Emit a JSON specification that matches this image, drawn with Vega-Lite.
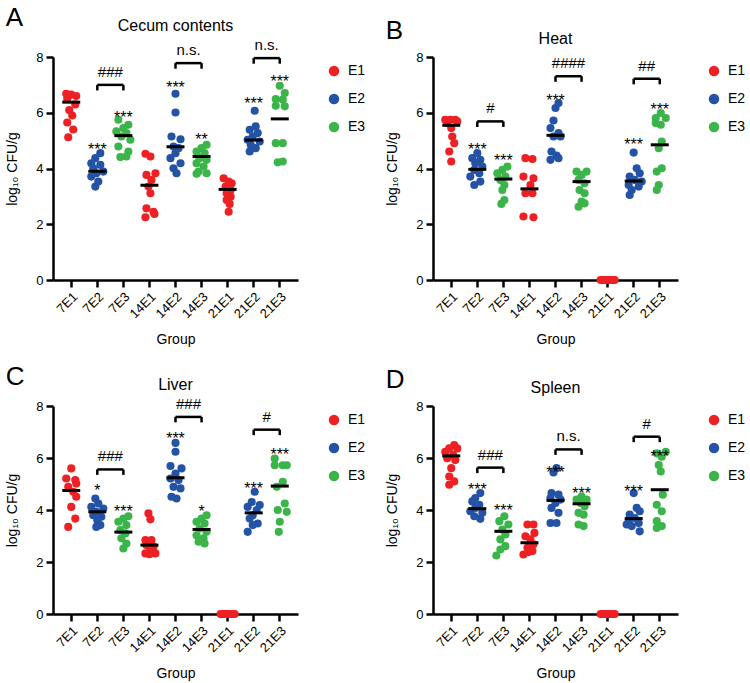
{
"$schema":"https://vega.github.io/schema/vega-lite/v6.json",
"padding":{"left":5,"top":5,"right":0,"bottom":0},
"datasets":{
"pts":[
{"p":"A","g":"7E1","e":"E1","v":6.68,"j":-5},{"p":"A","g":"7E1","e":"E1","v":6.65,"j":0},{"p":"A","g":"7E1","e":"E1","v":6.6,"j":5},{"p":"A","g":"7E1","e":"E1","v":6.5,"j":-4},{"p":"A","g":"7E1","e":"E1","v":6.3,"j":4},{"p":"A","g":"7E1","e":"E1","v":6.1,"j":-2},{"p":"A","g":"7E1","e":"E1","v":5.9,"j":1},{"p":"A","g":"7E1","e":"E1","v":5.65,"j":-4},{"p":"A","g":"7E1","e":"E1","v":5.4,"j":2},{"p":"A","g":"7E1","e":"E1","v":5.12,"j":-3},
{"p":"A","g":"7E2","e":"E2","v":4.55,"j":3},{"p":"A","g":"7E2","e":"E2","v":4.37,"j":-2},{"p":"A","g":"7E2","e":"E2","v":4.19,"j":-6},{"p":"A","g":"7E2","e":"E2","v":4.13,"j":3},{"p":"A","g":"7E2","e":"E2","v":4.01,"j":-4},{"p":"A","g":"7E2","e":"E2","v":3.89,"j":6},{"p":"A","g":"7E2","e":"E2","v":3.83,"j":-1},{"p":"A","g":"7E2","e":"E2","v":3.71,"j":-6},{"p":"A","g":"7E2","e":"E2","v":3.53,"j":1},{"p":"A","g":"7E2","e":"E2","v":3.35,"j":-2},
{"p":"A","g":"7E3","e":"E3","v":5.75,"j":-5},{"p":"A","g":"7E3","e":"E3","v":5.57,"j":5},{"p":"A","g":"7E3","e":"E3","v":5.45,"j":0},{"p":"A","g":"7E3","e":"E3","v":5.33,"j":-7},{"p":"A","g":"7E3","e":"E3","v":5.27,"j":3},{"p":"A","g":"7E3","e":"E3","v":5.15,"j":-2},{"p":"A","g":"7E3","e":"E3","v":5.03,"j":7},{"p":"A","g":"7E3","e":"E3","v":4.79,"j":-5},{"p":"A","g":"7E3","e":"E3","v":4.61,"j":5},{"p":"A","g":"7E3","e":"E3","v":4.41,"j":-3},{"p":"A","g":"7E3","e":"E3","v":4.43,"j":3},
{"p":"A","g":"14E1","e":"E1","v":4.53,"j":-4},{"p":"A","g":"14E1","e":"E1","v":4.43,"j":1},{"p":"A","g":"14E1","e":"E1","v":3.83,"j":6},{"p":"A","g":"14E1","e":"E1","v":3.77,"j":-3},{"p":"A","g":"14E1","e":"E1","v":3.59,"j":2},{"p":"A","g":"14E1","e":"E1","v":3.35,"j":-1},{"p":"A","g":"14E1","e":"E1","v":3.11,"j":1},{"p":"A","g":"14E1","e":"E1","v":2.57,"j":-3},{"p":"A","g":"14E1","e":"E1","v":2.45,"j":4},{"p":"A","g":"14E1","e":"E1","v":2.25,"j":-4},{"p":"A","g":"14E1","e":"E1","v":2.37,"j":5},
{"p":"A","g":"14E2","e":"E2","v":6.68,"j":0},{"p":"A","g":"14E2","e":"E2","v":6.01,"j":0},{"p":"A","g":"14E2","e":"E2","v":5.15,"j":-4},{"p":"A","g":"14E2","e":"E2","v":5.05,"j":5},{"p":"A","g":"14E2","e":"E2","v":4.79,"j":-2},{"p":"A","g":"14E2","e":"E2","v":4.73,"j":3},{"p":"A","g":"14E2","e":"E2","v":4.55,"j":0},{"p":"A","g":"14E2","e":"E2","v":4.37,"j":-5},{"p":"A","g":"14E2","e":"E2","v":4.19,"j":5},{"p":"A","g":"14E2","e":"E2","v":4.01,"j":-2},{"p":"A","g":"14E2","e":"E2","v":3.83,"j":1},
{"p":"A","g":"14E3","e":"E3","v":4.85,"j":5},{"p":"A","g":"14E3","e":"E3","v":4.73,"j":0},{"p":"A","g":"14E3","e":"E3","v":4.61,"j":-5},{"p":"A","g":"14E3","e":"E3","v":4.55,"j":3},{"p":"A","g":"14E3","e":"E3","v":4.37,"j":-2},{"p":"A","g":"14E3","e":"E3","v":4.31,"j":5},{"p":"A","g":"14E3","e":"E3","v":4.19,"j":-5},{"p":"A","g":"14E3","e":"E3","v":4.07,"j":2},{"p":"A","g":"14E3","e":"E3","v":3.89,"j":-3},{"p":"A","g":"14E3","e":"E3","v":3.83,"j":5},{"p":"A","g":"14E3","e":"E3","v":3.81,"j":-5},
{"p":"A","g":"21E1","e":"E1","v":3.65,"j":-4},{"p":"A","g":"21E1","e":"E1","v":3.53,"j":1},{"p":"A","g":"21E1","e":"E1","v":3.47,"j":4},{"p":"A","g":"21E1","e":"E1","v":3.35,"j":-2},{"p":"A","g":"21E1","e":"E1","v":3.23,"j":3},{"p":"A","g":"21E1","e":"E1","v":3.11,"j":-1},{"p":"A","g":"21E1","e":"E1","v":2.99,"j":3},{"p":"A","g":"21E1","e":"E1","v":2.87,"j":-1},{"p":"A","g":"21E1","e":"E1","v":2.73,"j":2},{"p":"A","g":"21E1","e":"E1","v":2.45,"j":1},
{"p":"A","g":"21E2","e":"E2","v":6.07,"j":1},{"p":"A","g":"21E2","e":"E2","v":5.51,"j":2},{"p":"A","g":"21E2","e":"E2","v":5.39,"j":-4},{"p":"A","g":"21E2","e":"E2","v":5.27,"j":4},{"p":"A","g":"21E2","e":"E2","v":5.15,"j":-1},{"p":"A","g":"21E2","e":"E2","v":5.03,"j":-6},{"p":"A","g":"21E2","e":"E2","v":4.97,"j":6},{"p":"A","g":"21E2","e":"E2","v":4.85,"j":-3},{"p":"A","g":"21E2","e":"E2","v":4.73,"j":2},{"p":"A","g":"21E2","e":"E2","v":4.61,"j":-4},
{"p":"A","g":"21E3","e":"E3","v":6.97,"j":0},{"p":"A","g":"21E3","e":"E3","v":6.71,"j":5},{"p":"A","g":"21E3","e":"E3","v":6.49,"j":-4},{"p":"A","g":"21E3","e":"E3","v":6.47,"j":3},{"p":"A","g":"21E3","e":"E3","v":6.25,"j":-4},{"p":"A","g":"21E3","e":"E3","v":6.23,"j":5},{"p":"A","g":"21E3","e":"E3","v":4.91,"j":-4},{"p":"A","g":"21E3","e":"E3","v":4.91,"j":3},{"p":"A","g":"21E3","e":"E3","v":4.22,"j":-2},{"p":"A","g":"21E3","e":"E3","v":4.25,"j":3},

{"p":"B","g":"7E1","e":"E1","v":5.75,"j":-6},{"p":"B","g":"7E1","e":"E1","v":5.75,"j":-1},{"p":"B","g":"7E1","e":"E1","v":5.75,"j":4},{"p":"B","g":"7E1","e":"E1","v":5.69,"j":6},{"p":"B","g":"7E1","e":"E1","v":5.63,"j":-4},{"p":"B","g":"7E1","e":"E1","v":5.45,"j":0},{"p":"B","g":"7E1","e":"E1","v":5.15,"j":1},{"p":"B","g":"7E1","e":"E1","v":4.91,"j":3},{"p":"B","g":"7E1","e":"E1","v":4.61,"j":-2},{"p":"B","g":"7E1","e":"E1","v":4.25,"j":0},
{"p":"B","g":"7E2","e":"E2","v":4.55,"j":0},{"p":"B","g":"7E2","e":"E2","v":4.37,"j":-5},{"p":"B","g":"7E2","e":"E2","v":4.31,"j":3},{"p":"B","g":"7E2","e":"E2","v":4.19,"j":-2},{"p":"B","g":"7E2","e":"E2","v":4.07,"j":5},{"p":"B","g":"7E2","e":"E2","v":3.95,"j":-3},{"p":"B","g":"7E2","e":"E2","v":3.83,"j":2},{"p":"B","g":"7E2","e":"E2","v":3.71,"j":-7},{"p":"B","g":"7E2","e":"E2","v":3.53,"j":3},{"p":"B","g":"7E2","e":"E2","v":3.41,"j":-3},
{"p":"B","g":"7E3","e":"E3","v":4.07,"j":4},{"p":"B","g":"7E3","e":"E3","v":3.95,"j":-1},{"p":"B","g":"7E3","e":"E3","v":3.83,"j":-6},{"p":"B","g":"7E3","e":"E3","v":3.71,"j":2},{"p":"B","g":"7E3","e":"E3","v":3.59,"j":-3},{"p":"B","g":"7E3","e":"E3","v":3.41,"j":1},{"p":"B","g":"7E3","e":"E3","v":3.23,"j":-1},{"p":"B","g":"7E3","e":"E3","v":2.87,"j":1},{"p":"B","g":"7E3","e":"E3","v":2.73,"j":-2},
{"p":"B","g":"14E1","e":"E1","v":4.37,"j":-4},{"p":"B","g":"14E1","e":"E1","v":4.34,"j":3},{"p":"B","g":"14E1","e":"E1","v":3.71,"j":-6},{"p":"B","g":"14E1","e":"E1","v":3.65,"j":4},{"p":"B","g":"14E1","e":"E1","v":3.41,"j":1},{"p":"B","g":"14E1","e":"E1","v":3.11,"j":-4},{"p":"B","g":"14E1","e":"E1","v":3.11,"j":3},{"p":"B","g":"14E1","e":"E1","v":2.28,"j":-6},{"p":"B","g":"14E1","e":"E1","v":2.25,"j":4},
{"p":"B","g":"14E2","e":"E2","v":6.35,"j":3},{"p":"B","g":"14E2","e":"E2","v":6.17,"j":0},{"p":"B","g":"14E2","e":"E2","v":5.72,"j":-2},{"p":"B","g":"14E2","e":"E2","v":5.45,"j":-5},{"p":"B","g":"14E2","e":"E2","v":5.27,"j":3},{"p":"B","g":"14E2","e":"E2","v":5.15,"j":-2},{"p":"B","g":"14E2","e":"E2","v":5.15,"j":5},{"p":"B","g":"14E2","e":"E2","v":4.61,"j":-4},{"p":"B","g":"14E2","e":"E2","v":4.46,"j":1},{"p":"B","g":"14E2","e":"E2","v":4.31,"j":-5},{"p":"B","g":"14E2","e":"E2","v":4.37,"j":3},
{"p":"B","g":"14E3","e":"E3","v":3.89,"j":-5},{"p":"B","g":"14E3","e":"E3","v":3.89,"j":5},{"p":"B","g":"14E3","e":"E3","v":3.77,"j":0},{"p":"B","g":"14E3","e":"E3","v":3.59,"j":-3},{"p":"B","g":"14E3","e":"E3","v":3.47,"j":3},{"p":"B","g":"14E3","e":"E3","v":3.23,"j":-2},{"p":"B","g":"14E3","e":"E3","v":3.11,"j":3},{"p":"B","g":"14E3","e":"E3","v":2.81,"j":0},{"p":"B","g":"14E3","e":"E3","v":2.63,"j":-3},{"p":"B","g":"14E3","e":"E3","v":2.75,"j":3},
{"p":"B","g":"21E1","e":"E1","v":0,"j":-7},{"p":"B","g":"21E1","e":"E1","v":0,"j":-5},{"p":"B","g":"21E1","e":"E1","v":0,"j":-3},{"p":"B","g":"21E1","e":"E1","v":0,"j":-1},{"p":"B","g":"21E1","e":"E1","v":0,"j":1},{"p":"B","g":"21E1","e":"E1","v":0,"j":3},{"p":"B","g":"21E1","e":"E1","v":0,"j":5},{"p":"B","g":"21E1","e":"E1","v":0,"j":7},{"p":"B","g":"21E1","e":"E1","v":0,"j":-4},{"p":"B","g":"21E1","e":"E1","v":0,"j":4},
{"p":"B","g":"21E2","e":"E2","v":4.57,"j":0},{"p":"B","g":"21E2","e":"E2","v":4.01,"j":3},{"p":"B","g":"21E2","e":"E2","v":3.83,"j":6},{"p":"B","g":"21E2","e":"E2","v":3.71,"j":-4},{"p":"B","g":"21E2","e":"E2","v":3.59,"j":1},{"p":"B","g":"21E2","e":"E2","v":3.53,"j":8},{"p":"B","g":"21E2","e":"E2","v":3.41,"j":-5},{"p":"B","g":"21E2","e":"E2","v":3.35,"j":5},{"p":"B","g":"21E2","e":"E2","v":3.23,"j":-2},{"p":"B","g":"21E2","e":"E2","v":3.05,"j":-4},
{"p":"B","g":"21E3","e":"E3","v":5.99,"j":1},{"p":"B","g":"21E3","e":"E3","v":5.81,"j":-4},{"p":"B","g":"21E3","e":"E3","v":5.81,"j":6},{"p":"B","g":"21E3","e":"E3","v":5.63,"j":-4},{"p":"B","g":"21E3","e":"E3","v":5.57,"j":1},{"p":"B","g":"21E3","e":"E3","v":4.97,"j":2},{"p":"B","g":"21E3","e":"E3","v":4.73,"j":-1},{"p":"B","g":"21E3","e":"E3","v":4.01,"j":2},{"p":"B","g":"21E3","e":"E3","v":3.89,"j":-3},{"p":"B","g":"21E3","e":"E3","v":3.41,"j":-1},{"p":"B","g":"21E3","e":"E3","v":3.23,"j":-3},

{"p":"C","g":"7E1","e":"E1","v":5.6,"j":0},{"p":"C","g":"7E1","e":"E1","v":5.21,"j":-5},{"p":"C","g":"7E1","e":"E1","v":5.15,"j":4},{"p":"C","g":"7E1","e":"E1","v":5.02,"j":5},{"p":"C","g":"7E1","e":"E1","v":4.89,"j":-3},{"p":"C","g":"7E1","e":"E1","v":4.7,"j":2},{"p":"C","g":"7E1","e":"E1","v":4.51,"j":5},{"p":"C","g":"7E1","e":"E1","v":4.12,"j":0},{"p":"C","g":"7E1","e":"E1","v":3.67,"j":4},{"p":"C","g":"7E1","e":"E1","v":3.35,"j":-3},
{"p":"C","g":"7E2","e":"E2","v":4.44,"j":-2},{"p":"C","g":"7E2","e":"E2","v":4.25,"j":1},{"p":"C","g":"7E2","e":"E2","v":4.12,"j":-6},{"p":"C","g":"7E2","e":"E2","v":4.06,"j":6},{"p":"C","g":"7E2","e":"E2","v":3.93,"j":-1},{"p":"C","g":"7E2","e":"E2","v":3.8,"j":-4},{"p":"C","g":"7E2","e":"E2","v":3.74,"j":4},{"p":"C","g":"7E2","e":"E2","v":3.61,"j":0},{"p":"C","g":"7E2","e":"E2","v":3.35,"j":-1},{"p":"C","g":"7E2","e":"E2","v":3.42,"j":3},
{"p":"C","g":"7E3","e":"E3","v":3.76,"j":5},{"p":"C","g":"7E3","e":"E3","v":3.67,"j":0},{"p":"C","g":"7E3","e":"E3","v":3.55,"j":-5},{"p":"C","g":"7E3","e":"E3","v":3.42,"j":3},{"p":"C","g":"7E3","e":"E3","v":3.23,"j":-3},{"p":"C","g":"7E3","e":"E3","v":3.1,"j":2},{"p":"C","g":"7E3","e":"E3","v":2.91,"j":-2},{"p":"C","g":"7E3","e":"E3","v":2.71,"j":3},{"p":"C","g":"7E3","e":"E3","v":2.52,"j":0},
{"p":"C","g":"14E1","e":"E1","v":3.87,"j":-1},{"p":"C","g":"14E1","e":"E1","v":3.64,"j":1},{"p":"C","g":"14E1","e":"E1","v":2.84,"j":-4},{"p":"C","g":"14E1","e":"E1","v":2.84,"j":2},{"p":"C","g":"14E1","e":"E1","v":2.65,"j":-3},{"p":"C","g":"14E1","e":"E1","v":2.59,"j":4},{"p":"C","g":"14E1","e":"E1","v":2.46,"j":1},{"p":"C","g":"14E1","e":"E1","v":2.33,"j":-4},{"p":"C","g":"14E1","e":"E1","v":2.33,"j":6},{"p":"C","g":"14E1","e":"E1","v":2.3,"j":0},
{"p":"C","g":"14E2","e":"E2","v":6.58,"j":0},{"p":"C","g":"14E2","e":"E2","v":6.24,"j":0},{"p":"C","g":"14E2","e":"E2","v":5.69,"j":-5},{"p":"C","g":"14E2","e":"E2","v":5.6,"j":6},{"p":"C","g":"14E2","e":"E2","v":5.4,"j":0},{"p":"C","g":"14E2","e":"E2","v":5.21,"j":-5},{"p":"C","g":"14E2","e":"E2","v":5.15,"j":3},{"p":"C","g":"14E2","e":"E2","v":4.89,"j":-2},{"p":"C","g":"14E2","e":"E2","v":4.83,"j":5},{"p":"C","g":"14E2","e":"E2","v":4.51,"j":-4},{"p":"C","g":"14E2","e":"E2","v":4.44,"j":1},
{"p":"C","g":"14E3","e":"E3","v":3.8,"j":5},{"p":"C","g":"14E3","e":"E3","v":3.67,"j":0},{"p":"C","g":"14E3","e":"E3","v":3.55,"j":-5},{"p":"C","g":"14E3","e":"E3","v":3.48,"j":3},{"p":"C","g":"14E3","e":"E3","v":3.29,"j":-2},{"p":"C","g":"14E3","e":"E3","v":3.16,"j":5},{"p":"C","g":"14E3","e":"E3","v":3.03,"j":-5},{"p":"C","g":"14E3","e":"E3","v":2.91,"j":2},{"p":"C","g":"14E3","e":"E3","v":2.78,"j":-3},{"p":"C","g":"14E3","e":"E3","v":2.71,"j":3},
{"p":"C","g":"21E1","e":"E1","v":0,"j":-7},{"p":"C","g":"21E1","e":"E1","v":0,"j":-5},{"p":"C","g":"21E1","e":"E1","v":0,"j":-3},{"p":"C","g":"21E1","e":"E1","v":0,"j":-1},{"p":"C","g":"21E1","e":"E1","v":0,"j":1},{"p":"C","g":"21E1","e":"E1","v":0,"j":3},{"p":"C","g":"21E1","e":"E1","v":0,"j":5},{"p":"C","g":"21E1","e":"E1","v":0,"j":7},{"p":"C","g":"21E1","e":"E1","v":0,"j":-4},{"p":"C","g":"21E1","e":"E1","v":0,"j":4},
{"p":"C","g":"21E2","e":"E2","v":4.7,"j":1},{"p":"C","g":"21E2","e":"E2","v":4.31,"j":-2},{"p":"C","g":"21E2","e":"E2","v":4.19,"j":6},{"p":"C","g":"21E2","e":"E2","v":4.12,"j":-6},{"p":"C","g":"21E2","e":"E2","v":4.0,"j":3},{"p":"C","g":"21E2","e":"E2","v":3.8,"j":-1},{"p":"C","g":"21E2","e":"E2","v":3.67,"j":-4},{"p":"C","g":"21E2","e":"E2","v":3.48,"j":4},{"p":"C","g":"21E2","e":"E2","v":3.42,"j":-1},{"p":"C","g":"21E2","e":"E2","v":3.16,"j":-6},
{"p":"C","g":"21E3","e":"E3","v":5.98,"j":-5},{"p":"C","g":"21E3","e":"E3","v":5.72,"j":3},{"p":"C","g":"21E3","e":"E3","v":5.72,"j":-5},{"p":"C","g":"21E3","e":"E3","v":5.72,"j":7},{"p":"C","g":"21E3","e":"E3","v":5.08,"j":3},{"p":"C","g":"21E3","e":"E3","v":4.89,"j":-3},{"p":"C","g":"21E3","e":"E3","v":4.25,"j":5},{"p":"C","g":"21E3","e":"E3","v":4.0,"j":-2},{"p":"C","g":"21E3","e":"E3","v":3.93,"j":7},{"p":"C","g":"21E3","e":"E3","v":3.55,"j":0},{"p":"C","g":"21E3","e":"E3","v":3.16,"j":-1},

{"p":"D","g":"7E1","e":"E1","v":6.5,"j":3},{"p":"D","g":"7E1","e":"E1","v":6.37,"j":-2},{"p":"D","g":"7E1","e":"E1","v":6.37,"j":6},{"p":"D","g":"7E1","e":"E1","v":6.24,"j":-6},{"p":"D","g":"7E1","e":"E1","v":6.11,"j":2},{"p":"D","g":"7E1","e":"E1","v":5.99,"j":-4},{"p":"D","g":"7E1","e":"E1","v":5.92,"j":4},{"p":"D","g":"7E1","e":"E1","v":5.61,"j":0},{"p":"D","g":"7E1","e":"E1","v":5.29,"j":-2},{"p":"D","g":"7E1","e":"E1","v":5.1,"j":3},{"p":"D","g":"7E1","e":"E1","v":4.97,"j":-2},
{"p":"D","g":"7E2","e":"E2","v":4.65,"j":3},{"p":"D","g":"7E2","e":"E2","v":4.46,"j":-2},{"p":"D","g":"7E2","e":"E2","v":4.33,"j":-5},{"p":"D","g":"7E2","e":"E2","v":4.2,"j":2},{"p":"D","g":"7E2","e":"E2","v":4.08,"j":-2},{"p":"D","g":"7E2","e":"E2","v":3.95,"j":-7},{"p":"D","g":"7E2","e":"E2","v":3.89,"j":5},{"p":"D","g":"7E2","e":"E2","v":3.76,"j":-3},{"p":"D","g":"7E2","e":"E2","v":3.66,"j":3},
{"p":"D","g":"7E3","e":"E3","v":3.76,"j":1},{"p":"D","g":"7E3","e":"E3","v":3.57,"j":-4},{"p":"D","g":"7E3","e":"E3","v":3.44,"j":5},{"p":"D","g":"7E3","e":"E3","v":3.25,"j":-1},{"p":"D","g":"7E3","e":"E3","v":3.06,"j":2},{"p":"D","g":"7E3","e":"E3","v":2.87,"j":-3},{"p":"D","g":"7E3","e":"E3","v":2.61,"j":2},{"p":"D","g":"7E3","e":"E3","v":2.48,"j":-3},{"p":"D","g":"7E3","e":"E3","v":2.25,"j":-7},
{"p":"D","g":"14E1","e":"E1","v":3.44,"j":-2},{"p":"D","g":"14E1","e":"E1","v":3.44,"j":4},{"p":"D","g":"14E1","e":"E1","v":3.12,"j":5},{"p":"D","g":"14E1","e":"E1","v":2.99,"j":-4},{"p":"D","g":"14E1","e":"E1","v":2.87,"j":1},{"p":"D","g":"14E1","e":"E1","v":2.68,"j":4},{"p":"D","g":"14E1","e":"E1","v":2.55,"j":-2},{"p":"D","g":"14E1","e":"E1","v":2.42,"j":3},{"p":"D","g":"14E1","e":"E1","v":2.29,"j":-6},{"p":"D","g":"14E1","e":"E1","v":2.38,"j":-1},
{"p":"D","g":"14E2","e":"E2","v":5.61,"j":1},{"p":"D","g":"14E2","e":"E2","v":5.44,"j":-2},{"p":"D","g":"14E2","e":"E2","v":4.65,"j":-4},{"p":"D","g":"14E2","e":"E2","v":4.59,"j":3},{"p":"D","g":"14E2","e":"E2","v":4.46,"j":-5},{"p":"D","g":"14E2","e":"E2","v":4.4,"j":5},{"p":"D","g":"14E2","e":"E2","v":4.27,"j":0},{"p":"D","g":"14E2","e":"E2","v":4.08,"j":-4},{"p":"D","g":"14E2","e":"E2","v":3.89,"j":3},{"p":"D","g":"14E2","e":"E2","v":3.5,"j":-5},{"p":"D","g":"14E2","e":"E2","v":3.5,"j":1},
{"p":"D","g":"14E3","e":"E3","v":4.52,"j":0},{"p":"D","g":"14E3","e":"E3","v":4.4,"j":-5},{"p":"D","g":"14E3","e":"E3","v":4.4,"j":5},{"p":"D","g":"14E3","e":"E3","v":4.27,"j":-1},{"p":"D","g":"14E3","e":"E3","v":4.14,"j":3},{"p":"D","g":"14E3","e":"E3","v":3.89,"j":-3},{"p":"D","g":"14E3","e":"E3","v":3.82,"j":2},{"p":"D","g":"14E3","e":"E3","v":3.44,"j":-3},{"p":"D","g":"14E3","e":"E3","v":3.38,"j":2},
{"p":"D","g":"21E1","e":"E1","v":0,"j":-7},{"p":"D","g":"21E1","e":"E1","v":0,"j":-5},{"p":"D","g":"21E1","e":"E1","v":0,"j":-3},{"p":"D","g":"21E1","e":"E1","v":0,"j":-1},{"p":"D","g":"21E1","e":"E1","v":0,"j":1},{"p":"D","g":"21E1","e":"E1","v":0,"j":3},{"p":"D","g":"21E1","e":"E1","v":0,"j":5},{"p":"D","g":"21E1","e":"E1","v":0,"j":7},{"p":"D","g":"21E1","e":"E1","v":0,"j":-4},{"p":"D","g":"21E1","e":"E1","v":0,"j":4},
{"p":"D","g":"21E2","e":"E2","v":4.65,"j":0},{"p":"D","g":"21E2","e":"E2","v":4.08,"j":3},{"p":"D","g":"21E2","e":"E2","v":3.95,"j":6},{"p":"D","g":"21E2","e":"E2","v":3.82,"j":-4},{"p":"D","g":"21E2","e":"E2","v":3.69,"j":1},{"p":"D","g":"21E2","e":"E2","v":3.57,"j":-5},{"p":"D","g":"21E2","e":"E2","v":3.5,"j":5},{"p":"D","g":"21E2","e":"E2","v":3.38,"j":-2},{"p":"D","g":"21E2","e":"E2","v":3.44,"j":-7},{"p":"D","g":"21E2","e":"E2","v":3.18,"j":6},
{"p":"D","g":"21E3","e":"E3","v":6.24,"j":6},{"p":"D","g":"21E3","e":"E3","v":6.18,"j":-3},{"p":"D","g":"21E3","e":"E3","v":6.05,"j":2},{"p":"D","g":"21E3","e":"E3","v":5.73,"j":-1},{"p":"D","g":"21E3","e":"E3","v":5.48,"j":1},{"p":"D","g":"21E3","e":"E3","v":4.59,"j":3},{"p":"D","g":"21E3","e":"E3","v":4.2,"j":-3},{"p":"D","g":"21E3","e":"E3","v":3.95,"j":2},{"p":"D","g":"21E3","e":"E3","v":3.57,"j":-3},{"p":"D","g":"21E3","e":"E3","v":3.38,"j":2},{"p":"D","g":"21E3","e":"E3","v":3.31,"j":-3}
],
"med":[
{"p":"A","g":"7E1","v":6.38},{"p":"A","g":"7E2","v":3.9},{"p":"A","g":"7E3","v":5.18},{"p":"A","g":"14E1","v":3.4},{"p":"A","g":"14E2","v":4.78},{"p":"A","g":"14E3","v":4.43},{"p":"A","g":"21E1","v":3.25},{"p":"A","g":"21E2","v":5.02},{"p":"A","g":"21E3","v":5.78},
{"p":"B","g":"7E1","v":5.55},{"p":"B","g":"7E2","v":3.97},{"p":"B","g":"7E3","v":3.62},{"p":"B","g":"14E1","v":3.27},{"p":"B","g":"14E2","v":5.19},{"p":"B","g":"14E3","v":3.53},{"p":"B","g":"21E2","v":3.55},{"p":"B","g":"21E3","v":4.85},
{"p":"C","g":"7E1","v":4.75},{"p":"C","g":"7E2","v":3.93},{"p":"C","g":"7E3","v":3.15},{"p":"C","g":"14E1","v":2.65},{"p":"C","g":"14E2","v":5.24},{"p":"C","g":"14E3","v":3.25},{"p":"C","g":"21E2","v":3.89},{"p":"C","g":"21E3","v":4.92},
{"p":"D","g":"7E1","v":6.08},{"p":"D","g":"7E2","v":4.05},{"p":"D","g":"7E3","v":3.18},{"p":"D","g":"14E1","v":2.74},{"p":"D","g":"14E2","v":4.37},{"p":"D","g":"14E3","v":4.24},{"p":"D","g":"21E2","v":3.67},{"p":"D","g":"21E3","v":4.78}
],
"stars":[
{"p":"A","g":"7E2","v":4.85,"t":"***"},{"p":"A","g":"7E3","v":5.99,"t":"***"},{"p":"A","g":"14E2","v":7.07,"t":"***"},{"p":"A","g":"14E3","v":5.21,"t":"**"},{"p":"A","g":"21E2","v":6.49,"t":"***"},{"p":"A","g":"21E3","v":7.27,"t":"***"},
{"p":"B","g":"7E2","v":4.85,"t":"***"},{"p":"B","g":"7E3","v":4.45,"t":"***"},{"p":"B","g":"14E2","v":6.59,"t":"***"},{"p":"B","g":"21E2","v":5.03,"t":"***"},{"p":"B","g":"21E3","v":6.29,"t":"***"},
{"p":"C","g":"7E2","v":4.93,"t":"*"},{"p":"C","g":"7E3","v":4.12,"t":"***"},{"p":"C","g":"14E2","v":6.94,"t":"***"},{"p":"C","g":"14E3","v":4.12,"t":"*"},{"p":"C","g":"21E2","v":4.99,"t":"***"},{"p":"C","g":"21E3","v":6.3,"t":"***"},
{"p":"D","g":"7E2","v":4.97,"t":"***"},{"p":"D","g":"7E3","v":4.17,"t":"***"},{"p":"D","g":"14E2","v":5.63,"t":"***"},{"p":"D","g":"14E3","v":4.8,"t":"***"},{"p":"D","g":"21E2","v":4.9,"t":"***"},{"p":"D","g":"21E3","v":6.24,"t":"***"}
],
"br":[
{"p":"A","g1":"7E2","g2":"7E3","v":7.0,"vb":6.8,"t":"###"},{"p":"A","g1":"14E2","g2":"14E3","v":7.78,"vb":7.58,"t":"n.s."},{"p":"A","g1":"21E2","g2":"21E3","v":7.96,"vb":7.76,"t":"n.s."},
{"p":"B","g1":"7E2","g2":"7E3","v":5.69,"vb":5.49,"t":"#"},{"p":"B","g1":"14E2","g2":"14E3","v":7.31,"vb":7.11,"t":"####"},{"p":"B","g1":"21E2","g2":"21E3","v":7.22,"vb":7.02,"t":"##"},
{"p":"C","g1":"7E2","g2":"7E3","v":5.56,"vb":5.35,"t":"###"},{"p":"C","g1":"14E2","g2":"14E3","v":7.58,"vb":7.37,"t":"###"},{"p":"C","g1":"21E2","g2":"21E3","v":7.09,"vb":6.88,"t":"#"},
{"p":"D","g1":"7E2","g2":"7E3","v":5.63,"vb":5.42,"t":"###"},{"p":"D","g1":"14E2","g2":"14E3","v":6.33,"vb":6.12,"t":"n.s."},{"p":"D","g1":"21E2","g2":"21E3","v":6.82,"vb":6.61,"t":"#"}
]
},
"config":{
"font":"Liberation Sans",
"view":{"stroke":null},
"axis":{"domainColor":"#000","domainWidth":2.5,"tickColor":"#000","tickWidth":2.5,"tickSize":7,"labelColor":"#000","labelFontSize":13,"titleFontSize":14,"titleFontWeight":"normal","titleColor":"#000","grid":false,"labelPadding":3},
"axisX":{"labelAngle":-45,"titlePadding":12},
"axisY":{"titlePadding":16},
"legend":{"labelFontSize":14,"labelColor":"#000","symbolSize":110,"symbolType":"circle","rowPadding":14,"labelOffset":7,"offset":22,"padding":7},
"title":{"fontSize":16,"fontWeight":"normal","color":"#000"},
"text":{"fontSize":14,"color":"#000"}
},
"spacing":16,
"resolve":{"scale":{"color":"independent"},"legend":{"color":"independent"}},
"vconcat":[
{"hconcat":[
{"title":{"text":"A","anchor":"start","fontSize":26,"offset":-13,"frame":"bounds"},"resolve":{"scale":{"color":"independent"},"legend":{"color":"independent"}},"hconcat":[{
"title":{"text":"Cecum contents"},"width":245,"height":223,
"encoding":{"x":{"field":"g","type":"nominal","sort":null,"scale":{"domain":["7E1","7E2","7E3","14E1","14E2","14E3","21E1","21E2","21E3"],"paddingInner":0,"paddingOuter":0.2},"axis":{"title":"Group"}},"y":{"field":"v","type":"quantitative","scale":{"domain":[0,8],"nice":false},"axis":{"values":[0,2,4,6,8],"title":"log₁₀ CFU/g"}}},
"layer":[
{"data":{"name":"pts"},"transform":[{"filter":"datum.p=='A'"}],"mark":{"type":"circle","size":66,"opacity":1},"encoding":{"xOffset":{"field":"j","type":"quantitative","scale":{"domain":[-13,13]}},"color":{"field":"e","type":"nominal","scale":{"domain":["E1","E2","E3"],"range":["#ED2024","#2453A5","#3BB44A"]},"legend":{"title":null}}}},
{"data":{"name":"med"},"transform":[{"filter":"datum.p=='A'"}],"mark":{"type":"tick","color":"#000","thickness":3,"size":18,"opacity":1},"encoding":{}},
{"data":{"name":"stars"},"transform":[{"filter":"datum.p=='A'"}],"mark":{"type":"text","baseline":"middle","dy":5,"fontSize":16},"encoding":{"text":{"field":"t"}}},
{"data":{"name":"br"},"transform":[{"filter":"datum.p=='A'"}],"mark":{"type":"rule","strokeWidth":2.5,"color":"#000"},"encoding":{"x":{"field":"g1","type":"nominal"},"x2":{"field":"g2"}}},
{"data":{"name":"br"},"transform":[{"filter":"datum.p=='A'"},{"fold":["g1","g2"],"as":["k","g"]}],"mark":{"type":"rule","strokeWidth":2.5,"color":"#000"},"encoding":{"y2":{"field":"vb"}}},
{"data":{"name":"br"},"transform":[{"filter":"datum.p=='A'"}],"mark":{"type":"text","baseline":"middle","dx":13,"dy":-13,"fontSize":15},"encoding":{"x":{"field":"g1","type":"nominal"},"text":{"field":"t"}}}
]}]},
{"title":{"text":"B","anchor":"start","fontSize":26,"offset":-13,"frame":"bounds"},"resolve":{"scale":{"color":"independent"},"legend":{"color":"independent"}},"hconcat":[{
"title":{"text":"Heat"},"width":245,"height":223,
"encoding":{"x":{"field":"g","type":"nominal","sort":null,"scale":{"domain":["7E1","7E2","7E3","14E1","14E2","14E3","21E1","21E2","21E3"],"paddingInner":0,"paddingOuter":0.2},"axis":{"title":"Group"}},"y":{"field":"v","type":"quantitative","scale":{"domain":[0,8],"nice":false},"axis":{"values":[0,2,4,6,8],"title":"log₁₀ CFU/g"}}},
"layer":[
{"data":{"name":"pts"},"transform":[{"filter":"datum.p=='B'"}],"mark":{"type":"circle","size":66,"opacity":1},"encoding":{"xOffset":{"field":"j","type":"quantitative","scale":{"domain":[-13,13]}},"color":{"field":"e","type":"nominal","scale":{"domain":["E1","E2","E3"],"range":["#ED2024","#2453A5","#3BB44A"]},"legend":{"title":null}}}},
{"data":{"name":"med"},"transform":[{"filter":"datum.p=='B'"}],"mark":{"type":"tick","color":"#000","thickness":3,"size":18,"opacity":1},"encoding":{}},
{"data":{"name":"stars"},"transform":[{"filter":"datum.p=='B'"}],"mark":{"type":"text","baseline":"middle","dy":5,"fontSize":16},"encoding":{"text":{"field":"t"}}},
{"data":{"name":"br"},"transform":[{"filter":"datum.p=='B'"}],"mark":{"type":"rule","strokeWidth":2.5,"color":"#000"},"encoding":{"x":{"field":"g1","type":"nominal"},"x2":{"field":"g2"}}},
{"data":{"name":"br"},"transform":[{"filter":"datum.p=='B'"},{"fold":["g1","g2"],"as":["k","g"]}],"mark":{"type":"rule","strokeWidth":2.5,"color":"#000"},"encoding":{"y2":{"field":"vb"}}},
{"data":{"name":"br"},"transform":[{"filter":"datum.p=='B'"}],"mark":{"type":"text","baseline":"middle","dx":13,"dy":-13,"fontSize":15},"encoding":{"x":{"field":"g1","type":"nominal"},"text":{"field":"t"}}}
]}]}
],"spacing":12,"resolve":{"scale":{"color":"independent"},"legend":{"color":"independent"}}},
{"hconcat":[
{"title":{"text":"C","anchor":"start","fontSize":26,"offset":-13,"frame":"bounds"},"resolve":{"scale":{"color":"independent"},"legend":{"color":"independent"}},"hconcat":[{
"title":{"text":"Liver"},"width":245,"height":208,
"encoding":{"x":{"field":"g","type":"nominal","sort":null,"scale":{"domain":["7E1","7E2","7E3","14E1","14E2","14E3","21E1","21E2","21E3"],"paddingInner":0,"paddingOuter":0.2},"axis":{"title":"Group"}},"y":{"field":"v","type":"quantitative","scale":{"domain":[0,8],"nice":false},"axis":{"values":[0,2,4,6,8],"title":"log₁₀ CFU/g"}}},
"layer":[
{"data":{"name":"pts"},"transform":[{"filter":"datum.p=='C'"}],"mark":{"type":"circle","size":66,"opacity":1},"encoding":{"xOffset":{"field":"j","type":"quantitative","scale":{"domain":[-13,13]}},"color":{"field":"e","type":"nominal","scale":{"domain":["E1","E2","E3"],"range":["#ED2024","#2453A5","#3BB44A"]},"legend":{"title":null}}}},
{"data":{"name":"med"},"transform":[{"filter":"datum.p=='C'"}],"mark":{"type":"tick","color":"#000","thickness":3,"size":18,"opacity":1},"encoding":{}},
{"data":{"name":"stars"},"transform":[{"filter":"datum.p=='C'"}],"mark":{"type":"text","baseline":"middle","dy":5,"fontSize":16},"encoding":{"text":{"field":"t"}}},
{"data":{"name":"br"},"transform":[{"filter":"datum.p=='C'"}],"mark":{"type":"rule","strokeWidth":2.5,"color":"#000"},"encoding":{"x":{"field":"g1","type":"nominal"},"x2":{"field":"g2"}}},
{"data":{"name":"br"},"transform":[{"filter":"datum.p=='C'"},{"fold":["g1","g2"],"as":["k","g"]}],"mark":{"type":"rule","strokeWidth":2.5,"color":"#000"},"encoding":{"y2":{"field":"vb"}}},
{"data":{"name":"br"},"transform":[{"filter":"datum.p=='C'"}],"mark":{"type":"text","baseline":"middle","dx":13,"dy":-13,"fontSize":15},"encoding":{"x":{"field":"g1","type":"nominal"},"text":{"field":"t"}}}
]}]},
{"title":{"text":"D","anchor":"start","fontSize":26,"offset":-13,"frame":"bounds"},"resolve":{"scale":{"color":"independent"},"legend":{"color":"independent"}},"hconcat":[{
"title":{"text":"Spleen"},"width":245,"height":208,
"encoding":{"x":{"field":"g","type":"nominal","sort":null,"scale":{"domain":["7E1","7E2","7E3","14E1","14E2","14E3","21E1","21E2","21E3"],"paddingInner":0,"paddingOuter":0.2},"axis":{"title":"Group"}},"y":{"field":"v","type":"quantitative","scale":{"domain":[0,8],"nice":false},"axis":{"values":[0,2,4,6,8],"title":"log₁₀ CFU/g"}}},
"layer":[
{"data":{"name":"pts"},"transform":[{"filter":"datum.p=='D'"}],"mark":{"type":"circle","size":66,"opacity":1},"encoding":{"xOffset":{"field":"j","type":"quantitative","scale":{"domain":[-13,13]}},"color":{"field":"e","type":"nominal","scale":{"domain":["E1","E2","E3"],"range":["#ED2024","#2453A5","#3BB44A"]},"legend":{"title":null}}}},
{"data":{"name":"med"},"transform":[{"filter":"datum.p=='D'"}],"mark":{"type":"tick","color":"#000","thickness":3,"size":18,"opacity":1},"encoding":{}},
{"data":{"name":"stars"},"transform":[{"filter":"datum.p=='D'"}],"mark":{"type":"text","baseline":"middle","dy":5,"fontSize":16},"encoding":{"text":{"field":"t"}}},
{"data":{"name":"br"},"transform":[{"filter":"datum.p=='D'"}],"mark":{"type":"rule","strokeWidth":2.5,"color":"#000"},"encoding":{"x":{"field":"g1","type":"nominal"},"x2":{"field":"g2"}}},
{"data":{"name":"br"},"transform":[{"filter":"datum.p=='D'"},{"fold":["g1","g2"],"as":["k","g"]}],"mark":{"type":"rule","strokeWidth":2.5,"color":"#000"},"encoding":{"y2":{"field":"vb"}}},
{"data":{"name":"br"},"transform":[{"filter":"datum.p=='D'"}],"mark":{"type":"text","baseline":"middle","dx":13,"dy":-13,"fontSize":15},"encoding":{"x":{"field":"g1","type":"nominal"},"text":{"field":"t"}}}
]}]}
],"spacing":12,"resolve":{"scale":{"color":"independent"},"legend":{"color":"independent"}}}
]
}
